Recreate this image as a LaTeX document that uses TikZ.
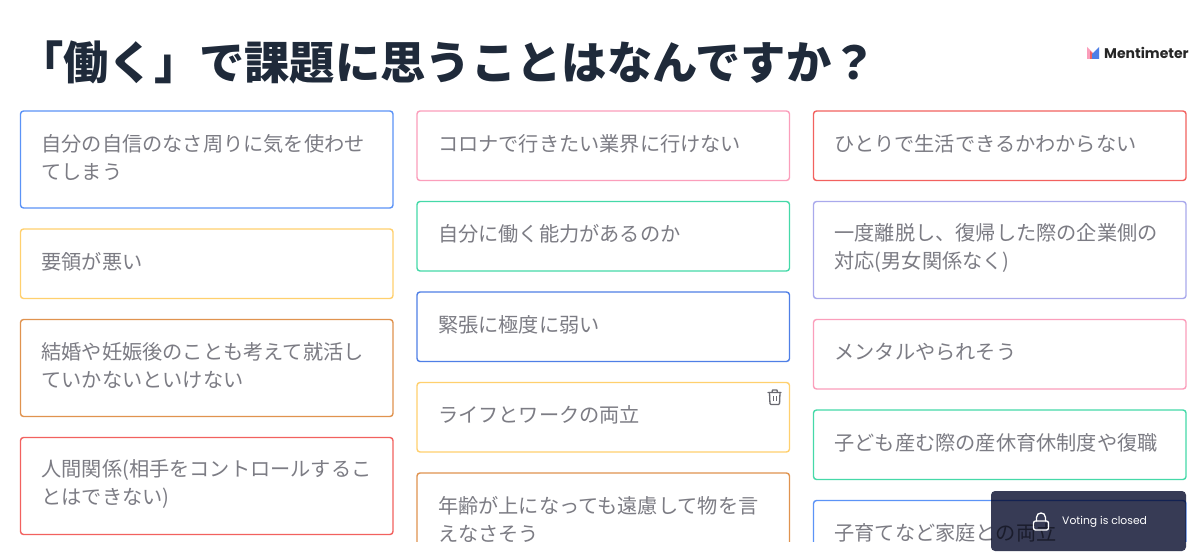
\documentclass[tikz,border=0pt]{standalone}
\usepackage{fontspec}
\setmainfont{Noto Sans CJK JP}
\newfontfamily\latinfont{Poppins}
\usetikzlibrary{positioning}

\definecolor{cardblue}{HTML}{5B93F7}
\definecolor{cardnavy}{HTML}{4F7FE6}
\definecolor{cardyellow}{HTML}{FFD06E}
\definecolor{cardorange}{HTML}{E0934F}
\definecolor{cardred}{HTML}{F2615F}
\definecolor{cardpink}{HTML}{FB9EBB}
\definecolor{cardgreen}{HTML}{45D9A8}
\definecolor{cardlilac}{HTML}{A9A9EC}
\definecolor{cardtext}{HTML}{7C7C84}
\definecolor{titletext}{HTML}{1F2A3A}
\definecolor{panelfill}{HTML}{373B55}

\tikzset{
  card/.style={draw=#1, line width=1.4pt, rounded corners=3pt, fill=white, outer sep=0pt,
    minimum width=372.5pt, minimum height=69.5pt, text width=330.5pt, inner sep=0pt,
    align=left, text=cardtext, font=\fontsize{20.2}{28}\selectfont,
    execute at end node={\par\kern4pt}},
  tallcard/.style={card=#1, minimum height=97pt},
  iconline/.style={draw=#1, line width=1.3pt, line cap=round, line join=round}
}

\begin{document}
\begin{tikzpicture}[x=1pt, y=-1pt, node distance=21pt]

      \useasboundingbox (0,0) rectangle (1200,556);
      \fill[white] (0,0) rectangle (1200,556);

      % Heading and logo
      \node[anchor=west, inner sep=0pt, text=titletext, font=\fontsize{45.3}{50}\selectfont\bfseries] (title) at (18,62) {「働く」で課題に思うことはなんですか？};
      \node[anchor=west, inner sep=0pt, text=black!85, font=\fontsize{14}{18}\selectfont\latinfont\bfseries] (logotext) at (1104,53) {Mentimeter};
      \fill[cardpink] (1087,59) -- (1087,47) -- (1093,53) -- (1093,59) -- cycle;
      \fill[cardred] (1090,59) -- (1090,51) -- (1094,55) -- (1094,59) -- cycle;
      \fill[cardnavy] (1092,59) -- (1092,54) -- (1099,47) -- (1099,59) -- cycle;

      \begin{scope}
      \clip (0,0) rectangle (1200,541);

      % Cards of the first column
      \node[tallcard=cardblue, anchor=north west] (self) at (20.5,111) {自分の自信のなさ周りに気を使わせ\\てしまう};
      \node[card=cardyellow] (knack) [below=of self] {要領が悪い};
      \node[tallcard=cardorange] (marriage) [below=of knack] {結婚や妊娠後のことも考えて就活し\\ていかないといけない};
      \node[tallcard=cardred] (people) [below=of marriage] {人間関係(相手をコントロールするこ\\とはできない)};

      % Cards of the second column
      \node[card=cardpink, anchor=north west] (corona) at (417,111) {コロナで行きたい業界に行けない};
      \node[card=cardgreen] (ability) [below=of corona] {自分に働く能力があるのか};
      \node[card=cardnavy] (nerves) [below=of ability] {緊張に極度に弱い};
      \node[card=cardyellow] (balance) [below=of nerves] {ライフとワークの両立};
      \node[tallcard=cardorange] (age) [below=of balance] {年齢が上になっても遠慮して物を言\\えなさそう};

      % Cards of the third column
      \node[card=cardred, anchor=north west] (alone) at (813.5,111) {ひとりで生活できるかわからない};
      \node[tallcard=cardlilac] (return) [below=of alone] {一度離脱し、復帰した際の企業側の\\対応(男女関係なく)};
      \node[card=cardpink] (mental) [below=of return] {メンタルやられそう};
      \node[card=cardgreen] (leave) [below=of mental] {子ども産む際の産休育休制度や復職};
      \node[card=cardblue] (family) [below=of leave] {子育てなど家庭との両立};

      \end{scope}

      % Trash icon on the hovered card
      \draw[iconline=cardtext!85!black] (768,392.5) -- (781,392.5) (772,392.5) -- (772.5,390) -- (777,390) -- (777.5,392.5);
      \draw[iconline=cardtext!85!black, rounded corners=1pt] (769.5,392.5) -- (770,404.5) -- (779.5,404.5) -- (780,392.5);
      \draw[cardtext!85!black, line width=1pt] (773.5,396) -- (773.5,401) (776,396) -- (776,401);

      % Closed panel
      \begin{scope}[blend mode=multiply]
      \node[fill=panelfill, rounded corners=4pt, minimum width=195pt, minimum height=60pt, outer sep=0pt, anchor=north west] (panel) at (991,491) {};
      \end{scope}
      \node[anchor=west, inner sep=0pt, text=white, font=\fontsize{10.8}{13}\selectfont\latinfont] (paneltext) at (1062,522) {Voting is closed};
      \draw[iconline=white, rounded corners=2pt] (1033.5,521) rectangle (1048.5,530);
      \draw[iconline=white] (1036.5,521) -- (1036.5,517.5) .. controls (1036.5,511.5) and (1045.5,511.5) .. (1045.5,517.5) -- (1045.5,521);

     \end{tikzpicture}
\end{document}
